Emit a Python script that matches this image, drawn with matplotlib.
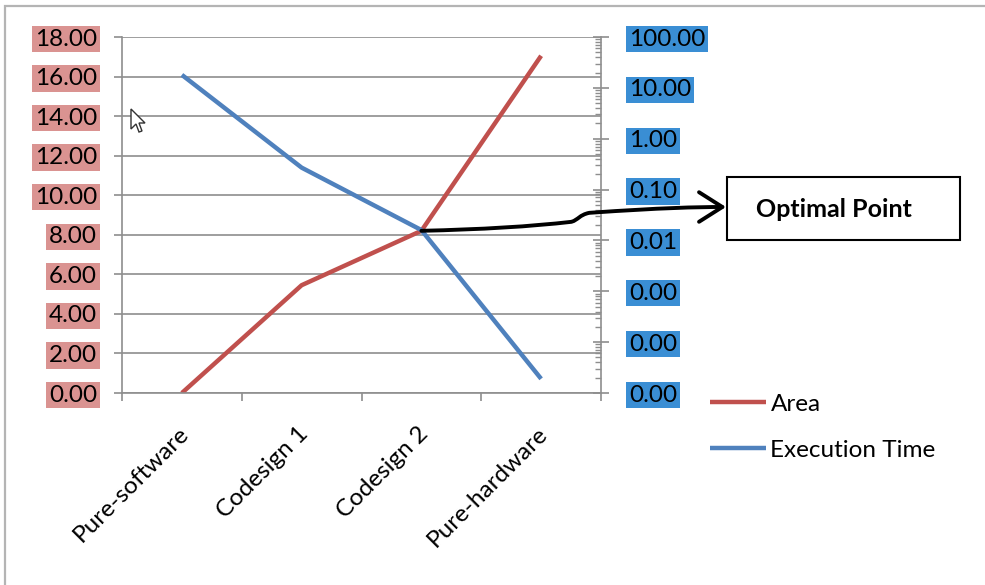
import numpy as np
import matplotlib.pyplot as plt
from matplotlib.patches import Rectangle, Polygon, FancyArrowPatch
from matplotlib.path import Path
from matplotlib.transforms import ScaledTranslation
from matplotlib.ticker import FixedLocator, NullFormatter, LogLocator

plt.rcParams['font.family'] = ['Lato', 'DejaVu Sans']

designs = ['Pure-software', 'Codesign 1', 'Codesign 2', 'Pure-hardware']
area = [0.0, 5.45, 8.2, 17.05]
exec_time = [18.0, 0.27, 0.016, 1.9e-5]

left_ticks = np.arange(0, 20, 2)
right_ticks = [1e-5, 1e-4, 1e-3, 1e-2, 1e-1, 1, 10, 100]

red = '#C0504D'
blue = '#4F81BD'
grid_grey = '#8E8E8E'
fs = 17.5

W, H = 985, 585
fig = plt.figure(figsize=(W / 100, H / 100), dpi=100)


def px(xp, yp):
    # figure pixels measured from the top-left corner -> figure fraction
    return xp / W, 1 - yp / H


# outer frame of the chart object
fig.add_artist(Rectangle((5 / W, -0.05), 1.2, 1 - 6 / H + 0.05,
                         transform=fig.transFigure, fill=False,
                         edgecolor='#B4B4B4', lw=1.6))

ax = fig.add_axes([122 / W, 1 - 393 / H, 479 / W, 356 / H])
ax2 = ax.twinx()

x = np.arange(len(designs))

ax.set_xlim(-0.5, len(designs) - 0.5)
ax.set_ylim(0, 18)
ax.set_yticks(left_ticks)
ax.set_yticklabels([f'{v:.2f}' for v in left_ticks])
ax.yaxis.grid(True, color=grid_grey, lw=1.2)
ax.set_axisbelow(True)

for s in ['top', 'right']:
    ax.spines[s].set_visible(False)
for s in ['left', 'bottom']:
    ax.spines[s].set_color(grid_grey)
    ax.spines[s].set_linewidth(1.2)

# category boundaries carry the tick marks, categories carry the labels
ax.xaxis.set_major_locator(FixedLocator(np.arange(len(designs) + 1) - 0.5))
ax.xaxis.set_major_formatter(NullFormatter())
ax.xaxis.set_minor_locator(FixedLocator(x))
ax.set_xticklabels(designs, minor=True, rotation=45, ha='right', va='center',
                   rotation_mode='anchor', fontsize=fs)
ax.tick_params(axis='x', which='major', length=6, width=1.2, color=grid_grey, direction='out')
ax.tick_params(axis='x', which='minor', length=0, pad=27)
for lab in ax.get_xticklabels(minor=True):
    lab.set_transform(lab.get_transform() + ScaledTranslation(3 / 100, 0, fig.dpi_scale_trans))

ax.tick_params(axis='y', length=6, width=1.2, color=grid_grey, pad=12, labelsize=fs)
for lab in ax.get_yticklabels():
    lab.set_bbox(dict(facecolor='#DA9391', edgecolor='none', pad=2.0))

ax2.set_yscale('log')
ax2.set_ylim(1e-5, 100)
ax2.set_yticks(right_ticks)
ax2.set_yticklabels([f'{v:.2f}' for v in right_ticks])
ax2.yaxis.set_minor_locator(LogLocator(base=10, subs=np.arange(2, 10), numticks=20))
ax2.yaxis.set_minor_formatter(NullFormatter())
for s in ['top', 'left', 'bottom']:
    ax2.spines[s].set_visible(False)
ax2.spines['right'].set_color(grid_grey)
ax2.spines['right'].set_linewidth(1.2)
ax2.tick_params(axis='y', which='major', direction='inout', length=12, width=1.2,
                color=grid_grey, pad=14, labelsize=fs)
ax2.tick_params(axis='y', which='minor', direction='in', length=4, width=1.0, color=grid_grey)
for lab in ax2.get_yticklabels():
    lab.set_bbox(dict(facecolor='#3A8ED4', edgecolor='none', pad=2.0))

l1, = ax.plot(x, area, color=red, lw=3.2, solid_capstyle='butt', label='Area')
l2, = ax2.plot(x, exec_time, color=blue, lw=3.2, solid_capstyle='butt', label='Execution Time')

fig.legend(handles=[l1, l2], loc='upper left', bbox_to_anchor=px(700, 384),
           frameon=False, fontsize=fs, handlelength=2.3, handletextpad=0.2,
           labelspacing=1.02, borderaxespad=0)

# "Optimal Point" call-out box
bx0, by0, bx1, by1 = 727, 177, 960, 240
fig.add_artist(Rectangle(px(bx0, by1), (bx1 - bx0) / W, (by1 - by0) / H,
                         transform=fig.transFigure, facecolor='white',
                         edgecolor='black', lw=1.5, zorder=5))
fig.text(*px(834, 209), 'Optimal Point', fontsize=18, fontweight='bold',
         ha='center', va='center', zorder=6)

# hand-drawn arrow from the crossing point to the box
sx, sy = ax.transData.transform((x[2], area[2]))
ex, ey = bx0 - 1, H - 207
verts = [(sx, sy),
         (sx + 90, sy + 2), (sx + 150, sy + 9),
         (sx + 157, sy + 11), (sx + 158, sy + 16), (sx + 168, sy + 18),
         (sx + 240, sy + 23), (ex - 30, ey), (ex, ey)]
codes = [Path.MOVETO, Path.CURVE3, Path.CURVE3,
         Path.CURVE4, Path.CURVE4, Path.CURVE4,
         Path.CURVE4, Path.CURVE4, Path.CURVE4]
arrow = FancyArrowPatch(path=Path(verts, codes),
                        arrowstyle='->,head_length=0.6,head_width=0.38',
                        mutation_scale=28, color='black', lw=2.8,
                        transform=None, zorder=6)
fig.add_artist(arrow)

# mouse pointer left on the screen
cursor = np.array([[0, 0], [0, 20], [5, 15], [8, 23], [11, 22], [8, 14], [14, 14]])
cursor = cursor + [131, 109]
fig.add_artist(Polygon([px(a, b) for a, b in cursor],
                       closed=True, facecolor='white', edgecolor='#333333', lw=1.0,
                       transform=fig.transFigure))

fig.savefig('out.png', dpi=100)
